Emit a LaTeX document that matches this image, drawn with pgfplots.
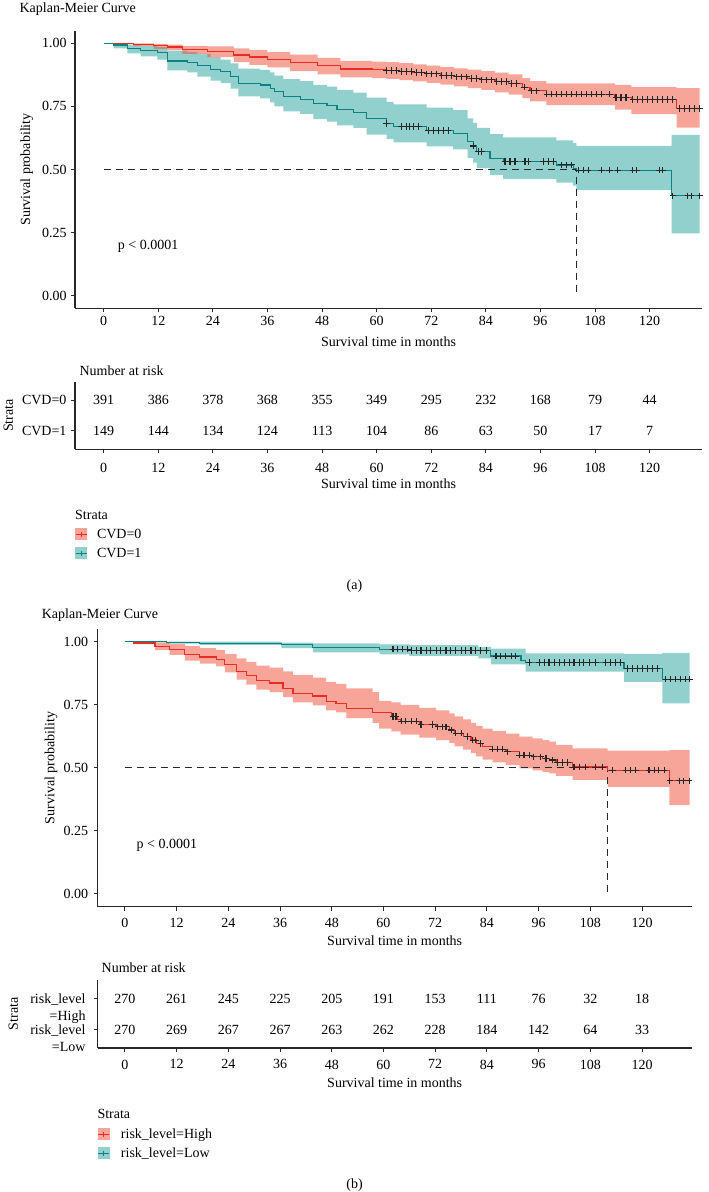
\documentclass[border=0pt]{standalone}
\usepackage{fontspec}
\setmainfont{Liberation Serif}
\usepackage{pgfplots}
\usepackage{pgfplotstable}
\pgfplotsset{compat=1.18}
\usepgfplotslibrary{fillbetween}
\definecolor{redL}{RGB}{232,45,38}
\definecolor{redB}{RGB}{238,76,50}
\definecolor{tealL}{RGB}{10,130,130}
\definecolor{tealB}{RGB}{37,161,157}
\definecolor{axc}{RGB}{40,40,40}
\newcommand\fs{\fontsize{14}{16.8}\selectfont}

% ---------------- panel (a) data ----------------
\pgfplotstableread{
t s
0 1.000
6.6 0.995
11 0.990
14 0.985
17.3 0.976
22.8 0.967
28.6 0.954
32 0.946
36 0.937
41 0.924
47 0.911
52 0.898
59 0.895
62.2 0.892
65 0.888
68 0.884
71 0.879
74 0.873
77 0.867
80 0.861
83 0.855
86 0.848
89 0.840
92 0.826
93.7 0.812
97.3 0.798
112.4 0.786
116 0.778
125.9 0.742
131 0.742
}\redAcurve
\pgfplotstableread{
t u l
0 1.000 1.000
6.6 1.000 0.990
11 0.998 0.978
14 0.995 0.972
17.3 0.990 0.958
22.8 0.988 0.945
28.6 0.980 0.925
32 0.973 0.915
36 0.965 0.905
41 0.955 0.890
47 0.942 0.877
52 0.930 0.865
59 0.927 0.862
62.2 0.925 0.859
65 0.921 0.854
68 0.917 0.849
71 0.912 0.843
74 0.906 0.836
77 0.901 0.829
80 0.896 0.822
83 0.890 0.815
86 0.884 0.806
89 0.877 0.797
92 0.862 0.783
93.7 0.850 0.770
97.3 0.841 0.755
112.4 0.835 0.737
116 0.826 0.719
125.9 0.822 0.666
131 0.822 0.666
}\redAband
\pgfplotstableread{
t s
62.2 .892
63.3 .892
64.4 .892
65.5 .888
66.6 .888
67.7 .888
68.8 .884
69.9 .884
71.0 .879
72.1 .879
73.2 .879
74.3 .873
75.4 .873
76.5 .873
77.6 .867
78.7 .867
79.8 .867
80.9 .861
82.0 .861
83.1 .855
84.2 .855
85.3 .855
86.4 .848
87.5 .848
88.6 .848
89.7 .840
90.8 .840
92.5 .826
94.0 .812
95.1 .812
97.4 .798
98.4 .798
99.5 .798
100.6 .798
101.7 .798
102.8 .798
103.9 .798
105.0 .798
106.1 .798
107.2 .798
108.3 .798
109.4 .798
111.2 .798
112.6 .786
113.7 .786
114.8 .786
116.3 .778
117.4 .778
118.5 .778
119.6 .778
120.7 .778
121.8 .778
122.9 .778
124.0 .778
125.1 .778
126.6 .742
127.7 .742
128.8 .742
129.9 .742
131.0 .742
}\redAmarks
\pgfplotstableread{
t s
0 1.000
2.2 0.993
5.2 0.980
8.1 0.973
11.8 0.963
14 0.930
18.4 0.924
20.6 0.911
23.5 0.897
25.7 0.887
27.9 0.868
29.6 0.841
34.4 0.835
36.6 0.822
37.5 0.808
39.5 0.788
43.2 0.778
46.1 0.760
49.1 0.752
51.3 0.739
54.9 0.727
57.8 0.703
62.2 0.683
63.7 0.670
71 0.654
76.8 0.643
80 0.610
81.2 0.593
82 0.571
84.9 0.544
87.8 0.531
99.5 0.518
103.2 0.505
103.9 0.497
124.8 0.396
131 0.396
}\tealAcurve
\pgfplotstableread{
t u l
0 1.000 1.000
2.2 1.000 0.980
5.2 0.995 0.960
8.1 0.990 0.948
11.8 0.985 0.935
14 0.970 0.893
18.4 0.965 0.885
20.6 0.958 0.868
23.5 0.945 0.852
25.7 0.935 0.842
27.9 0.920 0.820
29.6 0.900 0.790
34.4 0.895 0.782
36.6 0.885 0.766
37.5 0.872 0.750
39.5 0.858 0.730
43.2 0.850 0.720
46.1 0.835 0.700
49.1 0.828 0.690
51.3 0.815 0.675
54.9 0.805 0.665
57.8 0.785 0.638
62.2 0.768 0.620
63.7 0.758 0.607
71 0.745 0.592
76.8 0.735 0.580
80 0.703 0.545
81.2 0.685 0.527
82 0.665 0.505
84.9 0.640 0.478
87.8 0.627 0.462
99.5 0.615 0.448
103.2 0.604 0.436
103.9 0.594 0.418
124.8 0.637 0.247
131 0.637 0.247
}\tealAband
\pgfplotstableread{
t s
62.2 .683
65.5 .670
66.6 .670
67.3 .670
68.1 .670
69.2 .670
71.4 .654
72.5 .654
73.5 .654
74.6 .654
75.7 .654
81.2 .593
82.3 .571
83.0 .571
88.2 .531
89.3 .531
90.4 .531
92.6 .531
93.3 .531
96.6 .531
97.7 .531
98.8 .531
100.6 .518
101.7 .518
102.8 .518
104.3 .497
105.4 .497
106.5 .497
109.4 .497
111.2 .497
113.0 .497
116.3 .497
117.1 .497
122.2 .497
122.9 .497
125.1 .396
128.4 .396
129.1 .396
131.0 .396
}\tealAmarks
\pgfplotstableread{
x y n
0 2 391
12 2 386
24 2 378
36 2 368
48 2 355
60 2 349
72 2 295
84 2 232
96 2 168
108 2 79
120 2 44
0 1 149
12 1 144
24 1 134
36 1 124
48 1 113
60 1 104
72 1 86
84 1 63
96 1 50
108 1 17
120 1 7
}\riskA

% ---------------- panel (b) data ----------------
\pgfplotstableread{
t s
0 1.000
2 0.995
7 0.982
10.4 0.968
13.9 0.950
17.4 0.939
21.2 0.930
23.2 0.910
25.9 0.883
28.2 0.865
30.5 0.847
33.6 0.836
36.7 0.816
39 0.796
43.6 0.785
46.7 0.764
49 0.756
51.4 0.736
57.5 0.718
61.8 0.703
63.3 0.692
64 0.685
68.3 0.672
72.2 0.663
75.3 0.650
76.5 0.637
78.5 0.624
80.3 0.610
81.5 0.597
83 0.584
85.3 0.574
88.4 0.564
91.5 0.550
94.6 0.544
96.9 0.537
98.5 0.531
100 0.521
103.9 0.503
112 0.491
126.3 0.449
131 0.449
}\redBcurve
\pgfplotstableread{
t u l
0 1.000 1.000
2 1.000 0.990
7 0.997 0.967
10.4 0.990 0.948
13.9 0.982 0.925
17.4 0.975 0.913
21.2 0.967 0.902
23.2 0.952 0.878
25.9 0.934 0.850
28.2 0.920 0.830
30.5 0.905 0.810
33.6 0.897 0.800
36.7 0.882 0.780
39 0.868 0.760
43.6 0.858 0.748
46.7 0.840 0.728
49 0.833 0.720
51.4 0.815 0.697
57.5 0.800 0.678
59 0.765 0.655
61.8 0.760 0.645
64 0.750 0.632
68.3 0.738 0.620
72.2 0.728 0.610
75.3 0.716 0.598
76.5 0.704 0.585
78.5 0.692 0.572
80.3 0.678 0.558
81.5 0.666 0.545
83 0.655 0.533
85.3 0.646 0.522
88.4 0.636 0.512
91.5 0.624 0.498
94.6 0.617 0.490
96.9 0.610 0.483
98.5 0.604 0.478
100 0.591 0.468
103.9 0.577 0.452
112 0.568 0.425
126.3 0.570 0.353
131 0.570 0.353
}\redBband
\pgfplotstableread{
t s
62.2 .703
62.9 .703
64.1 .685
65.2 .685
66.4 .685
67.6 .685
68.7 .672
71.4 .672
72.6 .663
73.7 .663
74.5 .663
75.7 .650
76.8 .637
78.0 .637
79.5 .624
80.7 .610
81.4 .610
82.6 .597
85.3 .574
86.5 .574
87.6 .574
88.8 .564
91.5 .550
92.6 .550
93.8 .550
94.9 .544
96.5 .544
97.7 .537
99.2 .531
100.4 .521
101.5 .521
102.7 .521
104.2 .503
105.4 .503
106.9 .503
109.2 .503
110.8 .503
113.1 .491
116.2 .491
117.4 .491
118.5 .491
121.6 .491
122.8 .491
123.9 .491
125.1 .491
126.4 .449
128.6 .449
129.7 .449
130.9 .449
}\redBmarks
\pgfplotstableread{
t s
0 1.000
9.6 0.997
17.4 0.994
36.3 0.990
43.6 0.978
59.1 0.970
66 0.965
84.9 0.943
91.9 0.927
93 0.918
115.8 0.894
124.7 0.851
131 0.851
}\tealBcurve
\pgfplotstableread{
t u l
0 1.000 1.000
9.6 1.000 0.992
17.4 1.000 0.987
36.3 0.996 0.975
43.6 0.993 0.958
59.1 0.989 0.950
66 0.986 0.944
82 0.980 0.934
84.9 0.973 0.910
93 0.954 0.881
115.8 0.952 0.841
124.7 0.956 0.756
131 0.956 0.756
}\tealBband
\pgfplotstableread{
t s
62.2 .970
63.3 .970
64.5 .970
65.6 .970
66.4 .965
67.6 .965
68.7 .965
69.9 .965
71.0 .965
72.2 .965
73.3 .965
74.5 .965
75.6 .965
76.8 .965
78.0 .965
79.1 .965
80.3 .965
81.4 .965
82.6 .965
83.8 .965
86.1 .943
87.2 .943
88.4 .943
89.6 .943
90.7 .943
93.8 .918
96.1 .918
97.3 .918
98.4 .918
99.6 .918
100.8 .918
101.9 .918
103.1 .918
104.2 .918
105.4 .918
106.5 .918
107.7 .918
109.2 .918
111.6 .918
112.7 .918
113.9 .918
115.0 .918
116.6 .894
117.8 .894
118.9 .894
120.1 .894
121.2 .894
122.4 .894
123.5 .894
125.5 .851
126.6 .851
127.8 .851
128.9 .851
130.1 .851
131.0 .851
}\tealBmarks
\pgfplotstableread{
x y n
0 2 270
12 2 261
24 2 245
36 2 225
48 2 205
60 2 191
72 2 153
84 2 111
96 2 76
108 2 32
120 2 18
0 1 270
12 1 269
24 1 267
36 1 267
48 1 263
60 1 262
72 1 228
84 1 184
96 1 142
108 1 64
120 1 33
}\riskB

\pgfplotsset{
  kmbase/.style={
    scale only axis,
    axis x line*=bottom, axis y line*=left,
    axis line style={-, axc, line width=1.3pt},
    tick style={axc, line width=1pt},
    tick align=outside,
    major tick length=4pt,
    xmin=-6.3, xmax=131.5,
    xtick={0,12,...,120},
    /pgf/number format/assume math mode=true,
    ticklabel style={font=\fs, text=black, inner sep=0pt},
    xticklabel style={anchor=north},
    yticklabel style={anchor=east},
    clip=false,
  },
  probticks/.style={
    ymin=-0.05, ymax=1.05, ytick={0,0.25,0.5,0.75,1},
    yticklabel style={/pgf/number format/fixed, /pgf/number format/fixed zerofill, /pgf/number format/precision=2},
  },
  band/.style={draw=none, const plot, forget plot},
  cens/.style={only marks, mark=+, mark size=3.2pt, black!85, line width=1.1pt, forget plot},
  med/.style={axc, line width=1pt, dash pattern=on 7pt off 5pt, forget plot},
  riskn/.style={draw=none, mark=none, forget plot, nodes near coords, point meta=explicit symbolic,
    nodes near coords style={anchor=center, font=\fs, inner sep=0pt, text=black}},
  legkey/.style 2 args={legend image code/.code={
      \path[draw=none, fill=#2, fill opacity=0.5] (0pt,-6pt) rectangle (12pt,6pt);
      \path[draw=#1, line width=1.1pt] (0.5pt,0pt) -- (11.5pt,0pt);
      \path[draw=#1, line width=1pt] (6pt,-2.5pt) -- (6pt,2.5pt);}},
}

\begin{document}
\begin{tikzpicture}[x=1pt,y=1pt]

% ================= (a) main =================
\begin{axis}[kmbase, probticks, at={(75pt,883.7pt)}, anchor=south west, width=627pt, height=277.6pt,
  xticklabel style={yshift=-3.5pt}, yticklabel style={xshift=-4.3pt},
  title={Kaplan-Meier Curve},
  every axis title/.style={at={(axis description cs:-0.094,1)}, anchor=west, yshift=22pt, font=\fs},
  xlabel={Survival time in months}, ylabel={Survival probability},
  every axis x label/.style={at={(axis description cs:0.5,-0.12)}, anchor=center, font=\fs},
  every axis y label/.style={at={(axis description cs:-0.077,0.5)}, rotate=90, anchor=center, font=\fs},
]
\addplot[band, name path=taU] table[x=t,y=u]{\tealAband};
\addplot[band, name path=taL] table[x=t,y=l]{\tealAband};
\addplot[tealB, fill opacity=0.5, forget plot] fill between[of=taU and taL];
\addplot[band, name path=raU] table[x=t,y=u]{\redAband};
\addplot[band, name path=raL] table[x=t,y=l]{\redAband};
\addplot[redB, fill opacity=0.5, forget plot] fill between[of=raU and raL];
\addplot[med] coordinates {(0,0.5) (103.9,0.5) (103.9,0)};
\addplot[const plot, redL, line width=1.2pt, forget plot] table[x=t,y=s]{\redAcurve};
\addplot[const plot, tealL, line width=1.2pt, forget plot] table[x=t,y=s]{\tealAcurve};
\addplot[cens] table[x=t,y=s]{\redAmarks};
\addplot[cens] table[x=t,y=s]{\tealAmarks};
\node[anchor=west, font=\fs, inner sep=0pt] at (axis cs:3.1,0.194) {p < 0.0001};
\end{axis}

% ================= (a) risk table =================
\begin{axis}[kmbase, at={(75pt,742.7pt)}, anchor=south west, width=627pt, height=67.6pt,
  ymin=0.4, ymax=2.6, ytick={1,2}, yticklabels={CVD=1,CVD=0},
  xticklabel style={yshift=-10pt}, yticklabel style={xshift=-4.3pt},
  title={Number at risk},
  every axis title/.style={at={(axis description cs:0,1)}, anchor=west, xshift=1pt, yshift=10.7pt, font=\fs},
  xlabel={Survival time in months}, ylabel={Strata},
  every axis x label/.style={at={(axis description cs:0.5,-0.513)}, anchor=center, font=\fs},
  every axis y label/.style={at={(axis description cs:-0.1064,0.5)}, rotate=90, anchor=center, font=\fs},
  legend style={at={(axis description cs:0,-1.164)}, anchor=north west, draw=none, fill=none,
    inner sep=0pt, row sep=7pt, nodes={inner sep=0pt, font=\fs},
    /tikz/every odd column/.style={column sep=9.7pt}},
  legend cell align=left,
]
\addlegendimage{legkey={redL}{redB}}
\addlegendentry{CVD=0}
\addlegendimage{legkey={tealL}{tealB}}
\addlegendentry{CVD=1}
\addplot[riskn] table[x=x,y=y,meta=n]{\riskA};
\end{axis}
\node[anchor=west, font=\fs, inner sep=0pt] at (75pt,677pt) {Strata};
\node[anchor=center, font=\fs] at (354.5pt,606pt) {(a)};

% ================= (b) main =================
\begin{axis}[kmbase, probticks, at={(97.7pt,285.4pt)}, anchor=south west, width=594pt, height=277.5pt,
  xticklabel style={yshift=-7.2pt}, yticklabel style={xshift=-5.4pt},
  title={Kaplan-Meier Curve},
  every axis title/.style={at={(axis description cs:-0.1,1)}, anchor=west, yshift=13.8pt, font=\fs},
  xlabel={Survival time in months}, ylabel={Survival probability},
  every axis x label/.style={at={(axis description cs:0.5,-0.1225)}, anchor=center, font=\fs},
  every axis y label/.style={at={(axis description cs:-0.0786,0.5)}, rotate=90, anchor=center, font=\fs},
]
\addplot[band, name path=tbU] table[x=t,y=u]{\tealBband};
\addplot[band, name path=tbL] table[x=t,y=l]{\tealBband};
\addplot[tealB, fill opacity=0.5, forget plot] fill between[of=tbU and tbL];
\addplot[band, name path=rbU] table[x=t,y=u]{\redBband};
\addplot[band, name path=rbL] table[x=t,y=l]{\redBband};
\addplot[redB, fill opacity=0.5, forget plot] fill between[of=rbU and rbL];
\addplot[med] coordinates {(0,0.5) (112,0.5) (112,0)};
\addplot[const plot, redL, line width=1.2pt, forget plot] table[x=t,y=s]{\redBcurve};
\addplot[const plot, tealL, line width=1.2pt, forget plot] table[x=t,y=s]{\tealBcurve};
\addplot[cens] table[x=t,y=s]{\redBmarks};
\addplot[cens] table[x=t,y=s]{\tealBmarks};
\node[anchor=west, font=\fs, inner sep=0pt] at (axis cs:2.7,0.194) {p < 0.0001};
\end{axis}

% ================= (b) risk table =================
\begin{axis}[kmbase, at={(97.7pt,144pt)}, anchor=south west, width=594pt, height=68pt,
  ymin=0.4, ymax=2.6, ytick={1,2}, yticklabels={{risk\_level\\=Low},{risk\_level\\=High}},
  xticklabel style={yshift=-7.5pt},
  yticklabel style={align=right, anchor=north east, xshift=-8pt, yshift=5pt, font=\fontsize{14}{16.7}\selectfont},
  title={Number at risk},
  every axis title/.style={at={(axis description cs:0,1)}, anchor=west, xshift=0.5pt, yshift=12pt, font=\fs},
  xlabel={Survival time in months}, ylabel={Strata},
  every axis x label/.style={at={(axis description cs:0.5,-0.515)}, anchor=center, font=\fs},
  every axis y label/.style={at={(axis description cs:-0.142,0.5)}, rotate=90, anchor=center, font=\fs},
  legend style={at={(axis description cs:0,-1.176)}, anchor=north west, draw=none, fill=none,
    inner sep=0pt, row sep=7pt, nodes={inner sep=0pt, font=\fs},
    /tikz/every odd column/.style={column sep=11pt}},
  legend cell align=left,
]
\addlegendimage{legkey={redL}{redB}}
\addlegendentry{risk\_level=High}
\addlegendimage{legkey={tealL}{tealB}}
\addlegendentry{risk\_level=Low}
\addplot[riskn] table[x=x,y=y,meta=n]{\riskB};
\end{axis}
\node[anchor=west, font=\fs, inner sep=0pt] at (97.3pt,78pt) {Strata};
\node[anchor=center, font=\fs] at (354.5pt,7pt) {(b)};
\pgfresetboundingbox
\useasboundingbox (0pt,0pt) rectangle (709pt,1192pt);
\end{tikzpicture}
\end{document}
